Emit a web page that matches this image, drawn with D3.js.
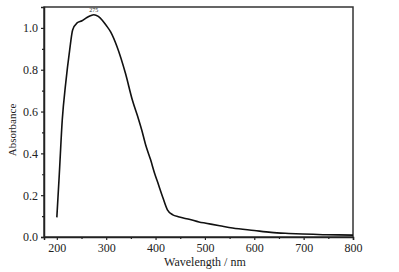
<!DOCTYPE html>
<html lang="en">
<head>
    <meta charset="UTF-8">
    <title>Absorbance spectrum</title>
    <style>
        body { margin: 0; background: #fff; }
        svg text { font-family: "Times New Roman", "Liberation Serif", Times, serif !important; fill: #222; }
    </style>
</head>
<body>
    <svg id="chart" width="399" height="272"></svg>
    <script src="https://d3js.org/d3.v7.min.js"></script>
    <script>
        // spectrum
        var wavelength = [200, 205, 211, 218, 226, 232, 241, 251, 261, 268, 275, 284, 292, 300, 309, 322, 339, 353, 366, 372, 380, 390, 398, 406, 414, 424, 435, 446, 458, 468, 488, 502, 530, 556, 600, 634, 670, 698, 739, 770, 800];
        var absorbance = [0.094, 0.30, 0.56, 0.736, 0.894, 0.99, 1.024, 1.034, 1.05, 1.058, 1.063, 1.055, 1.037, 1.012, 0.981, 0.91, 0.783, 0.655, 0.56, 0.512, 0.44, 0.369, 0.305, 0.25, 0.194, 0.13, 0.106, 0.097, 0.09, 0.085, 0.072, 0.066, 0.054, 0.043, 0.031, 0.022, 0.017, 0.014, 0.011, 0.01, 0.009];
        var xTicks = [200, 300, 400, 500, 600, 700, 800];
        var yTicks = [0.0, 0.2, 0.4, 0.6, 0.8, 1.0];
        var peakLabel = "275";

        var margin = { top: 7, right: 46, bottom: 35, left: 44 },
            width = 399 - margin.left - margin.right,
            height = 272 - margin.top - margin.bottom;

        var svg = d3.select("#chart")
                    .append("g")
                    .attr("transform", "translate(" + margin.left + "," + margin.top + ")");

        var x = d3.scaleLinear().domain([174, 800]).range([0, width]);
        var y = d3.scaleLinear().domain([0, 1.1]).range([height, 0]);

        var data = wavelength.map(function(w, i) { return { w: w, a: absorbance[i] }; });

        // frame
        svg.append("rect")
           .attr("width", width)
           .attr("height", height)
           .attr("fill", "none")
           .attr("stroke", "#333")
           .attr("stroke-width", 1.5);

        // minor ticks
        var xMinor = d3.range(250, 800, 100);
        var yMinor = [0.1, 0.3, 0.5, 0.7, 0.9];

        svg.append("g")
           .attr("transform", "translate(0," + height + ")")
           .call(d3.axisBottom(x).tickValues(xTicks).tickFormat(d3.format("d")).tickSize(3).tickPadding(3));
        svg.append("g")
           .attr("transform", "translate(0," + height + ")")
           .call(d3.axisBottom(x).tickValues(xMinor).tickFormat("").tickSize(2))
           .select(".domain").remove();

        svg.append("g")
           .call(d3.axisLeft(y).tickValues(yTicks).tickFormat(d3.format(".1f")).tickSize(3).tickPadding(3));
        svg.append("g")
           .call(d3.axisLeft(y).tickValues(yMinor).tickFormat("").tickSize(2))
           .select(".domain").remove();

        svg.selectAll(".domain").attr("stroke", "#222").attr("stroke-width", 1.5);
        svg.selectAll(".tick line").attr("stroke", "#222").attr("stroke-width", 1.2);
        svg.selectAll(".tick text")
           .attr("font-size", 12)
           .attr("fill", "#222");

        // curve
        var line = d3.line()
                     .x(function(d) { return x(d.w); })
                     .y(function(d) { return y(d.a); })
                     .curve(d3.curveMonotoneX);

        svg.append("path")
           .datum(data)
           .attr("d", line)
           .attr("fill", "none")
           .attr("stroke", "#111")
           .attr("stroke-width", 1.6);

        // peak annotation
        svg.append("text")
           .attr("x", x(+peakLabel))
           .attr("y", y(1.063) - 3)
           .style("text-anchor", "middle")
           .style("font-size", "6px")
           .text(peakLabel);

        // Label for X Axis
        svg.append("text")
           .attr("x", x(500))
           .attr("y", height + 29)
           .style("text-anchor", "middle")
           .style("font-size", "12px")
           .text("Wavelength / nm");

        // Label for Y Axis
        svg.append("text")
           .attr("transform", "rotate(-90)")
           .attr("x", -123)
           .attr("y", -28)
           .style("text-anchor", "middle")
           .style("font-size", "11px")
           .text("Absorbance");
    </script>
</body>
</html>
